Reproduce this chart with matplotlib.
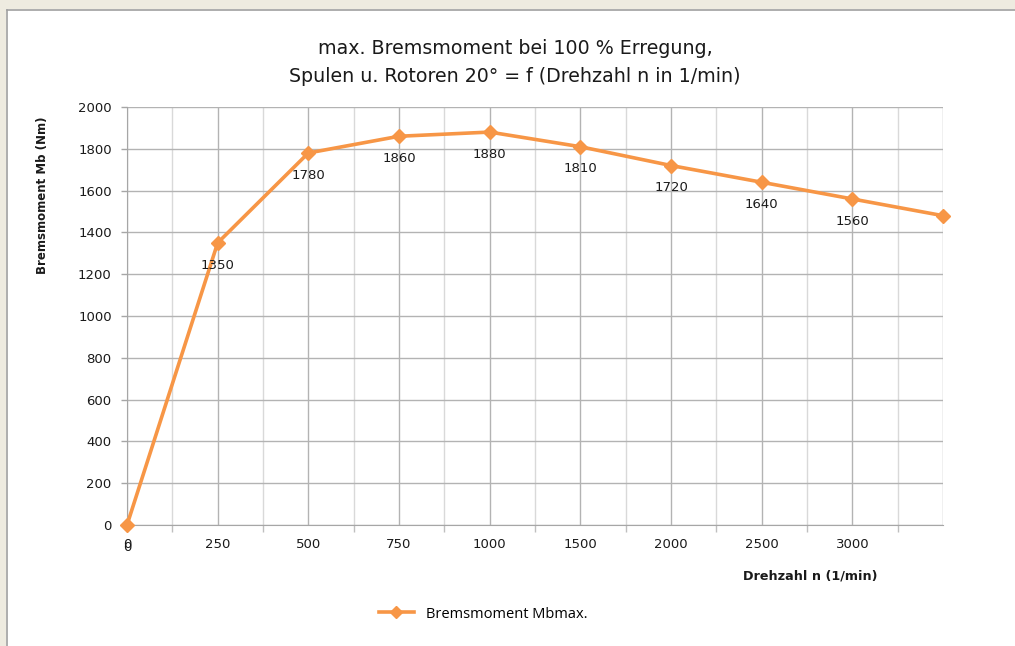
import matplotlib.pyplot as plt
from matplotlib.patches import Rectangle
from matplotlib.lines import Line2D

# ========================================================================
# data
drehzahl_labels = ["0", "250", "500", "750", "1000", "1500", "2000", "2500", "3000", ""]
bremsmoment = [0, 1350, 1780, 1860, 1880, 1810, 1720, 1640, 1560, 1480]
data_labels = ["0", "1350", "1780", "1860", "1880", "1810", "1720", "1640", "1560", ""]
y_ticks = [0, 200, 400, 600, 800, 1000, 1200, 1400, 1600, 1800, 2000]

orange = "#F79646"
W, H = 1015, 646

def main():
    fig = plt.figure(figsize=(W / 100, H / 100), dpi=100)
    fig.patch.set_facecolor("white")

    # window frame round the chart
    fig.patches.append(Rectangle((0, 1 - 9 / H), 1, 9 / H, transform=fig.transFigure,
                                 facecolor="#EEEBE0", edgecolor="none", zorder=0))
    fig.patches.append(Rectangle((0, 0), 6 / W, 1, transform=fig.transFigure,
                                 facecolor="#EEEBE0", edgecolor="none", zorder=0))
    fig.lines.append(Line2D([7 / W, 7 / W], [0, 1 - 9.5 / H], transform=fig.transFigure,
                            color="#A0A0A0", lw=1.2))
    fig.lines.append(Line2D([7 / W, 1], [1 - 9.5 / H, 1 - 9.5 / H], transform=fig.transFigure,
                            color="#A0A0A0", lw=1.2))

    left, right = 127 / W, 943 / W
    bottom, top = 1 - 525 / H, 1 - 107 / H
    ax = fig.add_axes([left, bottom, right - left, top - bottom])

    x = list(range(len(bremsmoment)))
    ax.plot(x, bremsmoment, color=orange, lw=2.6, marker="D", markersize=7.5,
            clip_on=False, zorder=5, label="Bremsmoment Mbmax.")

    # data labels below the points (the one at 0 sits on the "0" tick label, as in the original)
    for xi, yi, lab in zip(x, bremsmoment, data_labels):
        if lab:
            ax.annotate(lab, (xi, yi), xytext=(0, -16), textcoords="offset points",
                        ha="center", va="center", fontsize=9.5, color="#1a1a1a",
                        annotation_clip=False, zorder=6)

    ax.set_xlim(0, len(bremsmoment) - 1)
    ax.set_ylim(0, 2000)
    ax.set_xticks(x)
    ax.set_xticklabels(drehzahl_labels)
    ax.set_xticks([i + 0.5 for i in x[:-1]], minor=True)
    ax.set_yticks(y_ticks)

    ax.tick_params(axis="x", which="major", length=0, pad=9.5, labelsize=9.5, labelcolor="#1a1a1a")
    ax.tick_params(axis="x", which="minor", length=5, width=1, color="#BFBFBF", direction="out")
    ax.tick_params(axis="y", length=4, width=1, color="#A6A6A6", pad=7, labelsize=9.5,
                   labelcolor="#1a1a1a")

    ax.grid(True, which="major", axis="both", color="#B3B3B3", lw=1, zorder=0)
    ax.grid(True, which="minor", axis="x", color="#D9D9D9", lw=1, zorder=0)
    ax.set_axisbelow(True)

    for side in ["top", "right"]:
        ax.spines[side].set_visible(False)
    ax.spines["left"].set_color("#A6A6A6")
    ax.spines["bottom"].set_color("#A6A6A6")

    fig.text(515 / W, 1 - 48 / H, "max. Bremsmoment bei 100 % Erregung,",
             ha="center", va="center", fontsize=13.7, color="#1a1a1a")
    fig.text(515 / W, 1 - 76 / H, "Spulen u. Rotoren 20° = f (Drehzahl n in 1/min)",
             ha="center", va="center", fontsize=13.7, color="#1a1a1a")

    fig.text(43 / W, 1 - 195 / H, "Bremsmoment Mb (Nm)", rotation=90, ha="center",
             va="center", fontsize=8.5, fontweight="bold", color="#1a1a1a")
    fig.text(810 / W, 1 - 576 / H, "Drehzahl n (1/min)", ha="center", va="center",
             fontsize=9.2, fontweight="bold", color="#1a1a1a")

    fig.legend(loc="center", bbox_to_anchor=(483 / W, 1 - 614 / H), frameon=False,
               handlelength=2.4, markerscale=0.75, prop={"family": "Open Sans", "size": 10.5})

    fig.savefig("out.png", dpi=100)

if __name__ == "__main__":
    main()
